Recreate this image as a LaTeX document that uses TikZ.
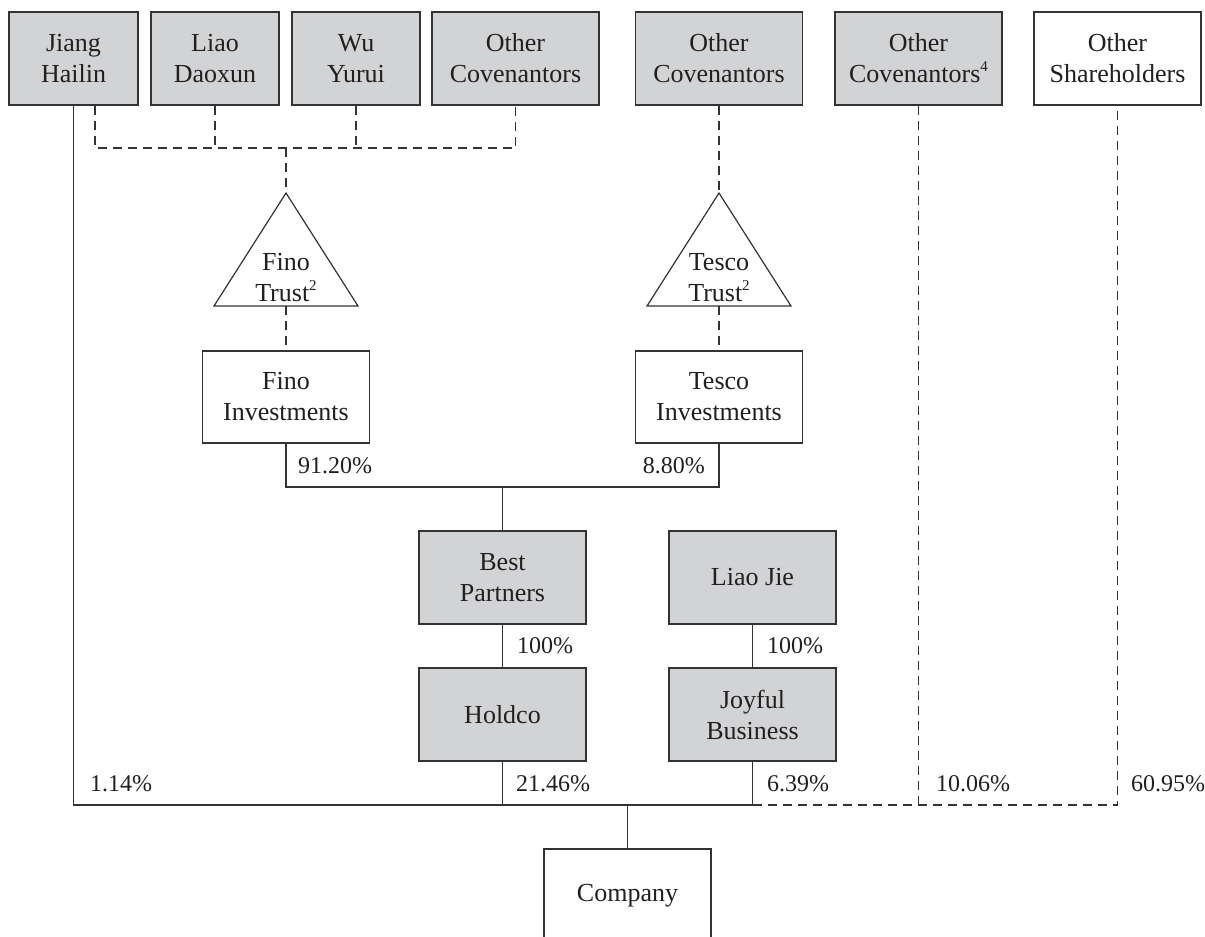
\documentclass[tikz,border=0pt]{standalone}
\usepackage{fontspec}
\setmainfont{Liberation Serif}
\definecolor{ink}{HTML}{231F20}
\definecolor{edge}{HTML}{333333}
\definecolor{boxgrey}{HTML}{D1D3D4}
\newcommand{\smallsup}[1]{\raisebox{0.42em}{\fontsize{15}{15}\selectfont #1}}
\begin{document}
\begin{tikzpicture}[x=1pt,y=-1pt,
  every node/.style={text=ink},
  box/.style={draw=edge, line width=1.4pt, minimum width=167pt, minimum height=93pt,
    inner sep=0pt, align=center, font=\fontsize{26}{31}\selectfont},
  greybox/.style={box, fill=boxgrey},
  plainbox/.style={box, fill=white},
  trusttext/.style={inner sep=0pt, align=center, font=\fontsize{26}{31}\selectfont},
  trustshape/.style={draw=edge, line width=1.2pt, fill=white},
  conn/.style={draw=edge, line width=1.2pt},
  dashedconn/.style={draw=edge, line width=1.3pt, dash pattern=on 9pt off 6pt},
  pct/.style={anchor=base west, inner sep=0pt, font=\fontsize{24}{28}\selectfont},
  pctr/.style={pct, anchor=base east}
]
\useasboundingbox (0,0) rectangle (1205,937);
\clip (0,0) rectangle (1205,937);

% top row
\node[greybox, minimum width=129pt] (jiang) at (73.5,58.5) {Jiang\\Hailin};
\node[greybox, minimum width=128pt] (liao) at (215,58.5) {Liao\\Daoxun};
\node[greybox, minimum width=128pt] (wu) at (356,58.5) {Wu\\Yurui};
\node[greybox] (oc1) at (515.5,58.5) {Other\\Covenantors};
\node[greybox] (oc2) at (719,58.5) {Other\\Covenantors};
\node[greybox] (oc4) at (918.5,58.5) {Other\\Covenantors\smallsup{4}};
\node[plainbox] (osh) at (1117.5,58.5) {Other\\Shareholders};

% trusts
\coordinate (ftA) at (286,193);
\coordinate (ftB) at (286,306);
\coordinate (ttA) at (719,193);
\coordinate (ttB) at (719,306);
\draw[trustshape] (ftA) -- ++(72,113) -- ++(-144,0) -- cycle;
\draw[trustshape] (ttA) -- ++(72,113) -- ++(-144,0) -- cycle;
\node[trusttext] (finotrust) at (286,277.5) {Fino\\Trust\smallsup{2}};
\node[trusttext] (tescotrust) at (719,277.5) {Tesco\\Trust\smallsup{2}};

% investments
\node[plainbox, minimum height=92pt] (finoinv) at (286,397) {Fino\\Investments};
\node[plainbox, minimum height=92pt] (tescoinv) at (719,397) {Tesco\\Investments};

% middle
\node[greybox] (best) at (502.5,577.5) {Best\\Partners};
\node[greybox] (liaojie) at (752.5,577.5) {Liao Jie};
\node[greybox] (holdco) at (502.5,714.5) {Holdco};
\node[greybox] (joyful) at (752.5,714.5) {Joyful\\Business};

% company
\node[plainbox] (company) at (627.5,895.5) {Company};

% helper levels
\coordinate (cov) at (0,148);
\coordinate (mid) at (0,487);
\coordinate (bus) at (0,805);
\coordinate (jd) at ([xshift=21.5pt]jiang.south);

% dashed covenant links
\draw[dashedconn] (jd) |- (oc1.south |- cov) -- (oc1.south);
\draw[dashedconn] (liao.south) -- (liao.south |- cov);
\draw[dashedconn] (wu.south) -- (wu.south |- cov);
\draw[dashedconn] (ftA |- cov) -- (ftA);
\draw[dashedconn] (oc2.south) -- (ttA);
\draw[dashedconn] (ftB) -- (finoinv.north);
\draw[dashedconn] (ttB) -- (tescoinv.north);

% investments to best partners
\draw[conn] (finoinv.south) |- (tescoinv.south |- mid) -- (tescoinv.south);
\draw[conn] (best.north) -- (best.north |- mid);
\draw[conn] (best.south) -- (holdco.north);
\draw[conn] (liaojie.south) -- (joyful.north);

% bottom bus
\draw[conn] (jiang.south) |- (joyful.south |- bus);
\draw[conn] (holdco.south) -- (holdco.south |- bus);
\draw[conn] (joyful.south) -- (joyful.south |- bus);
\draw[conn] (company.north) -- (company.north |- bus);
\draw[dashedconn] (joyful.south |- bus) -| (osh.south);
\draw[dashedconn] (oc4.south) -- (oc4.south |- bus);

% percentages
\node[pct] (p9120) at (298,473) {91.20\%};
\node[pctr] (p880) at (705,473) {8.80\%};
\node[pct] (p100a) at (517,653) {100\%};
\node[pct] (p100b) at (767,653) {100\%};
\node[pct] (p114) at (90,791) {1.14\%};
\node[pct] (p2146) at (516,791) {21.46\%};
\node[pct] (p639) at (767,791) {6.39\%};
\node[pct] (p1006) at (936,791) {10.06\%};
\node[pct] (p6095) at (1131,791) {60.95\%};
\end{tikzpicture}
\end{document}
